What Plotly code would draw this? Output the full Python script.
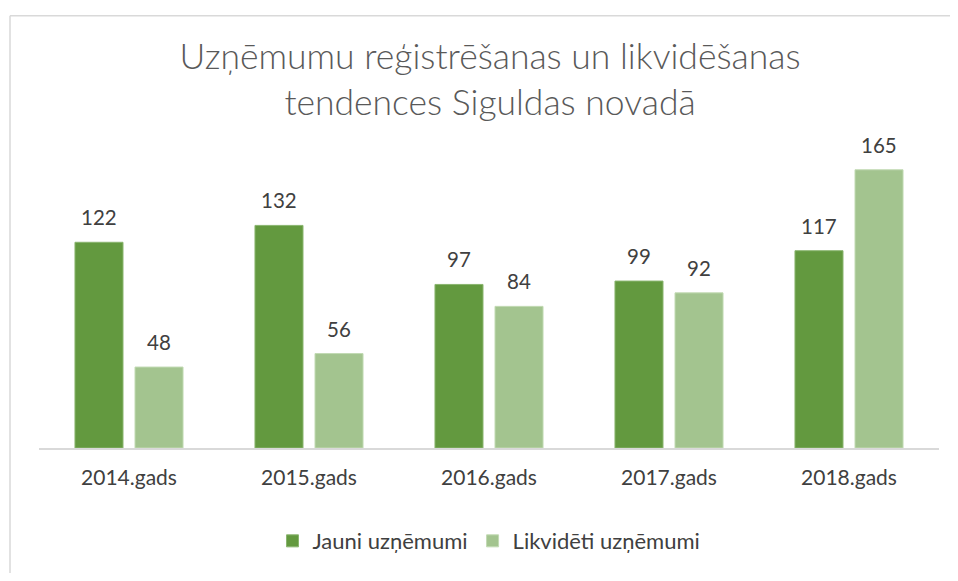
import plotly.graph_objects as go

# chart data
years = ["2014.gads", "2015.gads", "2016.gads", "2017.gads", "2018.gads"]
jauni = [122, 132, 97, 99, 117]
likvideti = [48, 56, 84, 92, 165]

dark_green = "#63993F"
light_green = "#A3C48F"
text_color = "#404040"
font_family = "Lato, 'Open Sans', sans-serif"

fig = go.Figure()
fig.add_trace(go.Bar(
    x=years, y=jauni, name="Jauni uzņēmumi",
    marker=dict(color=dark_green, line=dict(color="#8ab56f", width=1)),
))
fig.add_trace(go.Bar(
    x=years, y=likvideti, name="Likvidēti uzņēmumi",
    marker=dict(color=light_green, line=dict(color="#c2dab3", width=1)),
))

# value labels above the bars
labels = []
for series, shift in ((jauni, -30), (likvideti, 30)):
    for yr, val in zip(years, series):
        labels.append(dict(
            x=yr, y=val, text=str(val), xshift=shift, yshift=11,
            yanchor="bottom", showarrow=False,
            font=dict(size=20.5, color=text_color, family=font_family),
        ))

# chart frame: only the left and top edges are in view
frame_x = (10 - 39) / 900
frame_y = (451 - 12) / 321
frame = [
    dict(type="line", xref="paper", yref="paper", x0=frame_x, x1=1.2,
         y0=frame_y, y1=frame_y, line=dict(color="#d9d9d9", width=1.5)),
    dict(type="line", xref="paper", yref="paper", x0=frame_x, x1=frame_x,
         y0=-0.7, y1=frame_y, line=dict(color="#d9d9d9", width=1.5)),
]

# figure sized so the page (with its 8px body margin) fits the window
fig.update_layout(
    width=942, height=565,
    margin=dict(l=31, r=11, t=124, b=120),
    paper_bgcolor="white", plot_bgcolor="white",
    font=dict(family=font_family, color=text_color),
    title=dict(
        text="Uzņēmumu reģistrēšanas un likvidēšanas<br>tendences Siguldas novadā",
        x=0.5117, xanchor="center", y=0.892, yanchor="top",
        font=dict(size=35.5, color="#595959", family=font_family, weight=300),
    ),
    barmode="group", bargap=0.333, bargroupgap=0.2,
    showlegend=True,
    legend=dict(
        orientation="h", x=0.5, xanchor="center", y=-0.228, yanchor="top",
        font=dict(size=22, color=text_color), itemwidth=30,
    ),
    xaxis=dict(
        showline=True, linecolor="#d9d9d9", linewidth=2,
        ticks="", tickfont=dict(size=21, color=text_color),
        ticklabelstandoff=10, showgrid=False,
    ),
    yaxis=dict(
        range=[0, 187.4], visible=False, showgrid=False, zeroline=False,
    ),
    annotations=labels,
    shapes=frame,
)

fig.write_html("out.html")
